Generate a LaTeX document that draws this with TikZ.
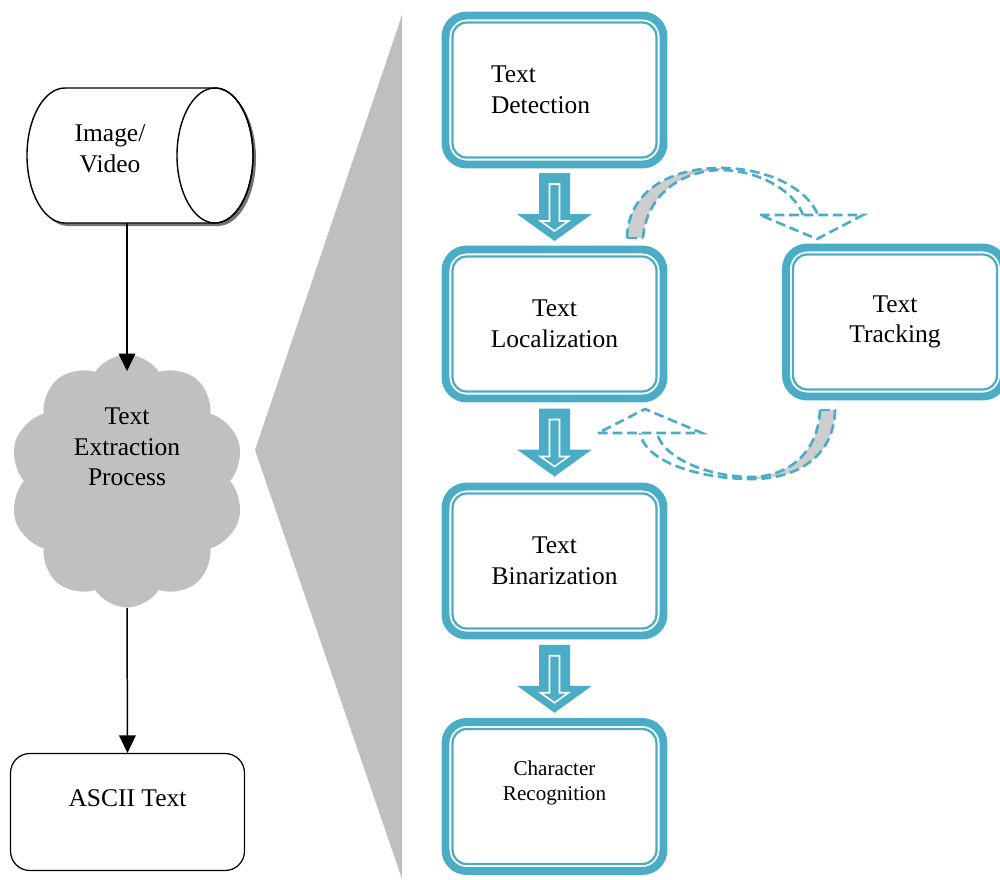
\documentclass[tikz,border=0pt]{standalone}
\usepackage{fontspec}
\setmainfont{Liberation Serif}
\usetikzlibrary{shapes.symbols,arrows.meta,calc}

\definecolor{stageblue}{RGB}{75,172,198}
\definecolor{fangray}{RGB}{191,191,191}
\definecolor{cloudgray}{RGB}{192,192,192}
\definecolor{bandgray}{RGB}{206,206,206}

\tikzset{
  caption/.style={font=\fontsize{14.5}{17.5}\selectfont, align=center},
  stage/.style={draw=stageblue, line width=4.5pt, rounded corners=12pt, outer sep=0pt,
    minimum width=4.36cm, minimum height=2.98cm, caption},
  stageinner/.style={draw=stageblue, line width=1.3pt, rounded corners=8pt},
  flow/.style={-{Triangle[length=10pt,width=9.5pt]}, line width=0.85pt},
  band/.style={draw=stageblue, line width=1.5pt, dash pattern=on 5.5pt off 2.8pt},
  blockarrow/.pic={
    \fill[stageblue] (-15.5,-34) -- (-15.5,7) -- (-37.5,7) -- (0,34)
      -- (37.5,7) -- (15.5,7) -- (15.5,-34) -- cycle;
    \draw[white, line width=0.9pt] (-5,-23) -- (-5,14) -- (-14,14) -- (0,24)
      -- (14,14) -- (5,14) -- (5,-23) -- cycle;
  }
}
% fat arrow half way between two stages
\newcommand\stagearrow[2]{\path ($(#1.south)!0.5!(#2.north)$) pic {blockarrow};}

\begin{document}
\begin{tikzpicture}[x=0.02cm, y=-0.02cm]
  \useasboundingbox (0,0) rectangle (1000,879);

  % zoom fan towards the stages
  \fill[fangray] (255,450) -- (402,15) -- (402,879) -- cycle;

  % left column: drum with shadow
  \fill[black!55, shift={(3,3)}] (65,88) -- (215,88) arc(-90:90:38 and 67.5)
    -- (65,223) arc(90:270:38 and 67.5) -- cycle;
  \draw[line width=0.8pt, fill=white] (65,88) -- (215,88) arc(-90:90:38 and 67.5)
    -- (65,223) arc(90:270:38 and 67.5) -- cycle;
  \draw[line width=0.8pt] (215,155.5) ellipse (38 and 67.5);
  \node[minimum width=4.52cm, minimum height=2.7cm, inner sep=0pt, outer sep=0pt,
    label={[caption, xshift=-0.6cm, yshift=0.14cm]center:Image/\\Video}] (media) at (140,155.5) {};

  \node[cloud, cloud puffs=10, cloud puff arc=115, aspect=0.93, fill=cloudgray,
    minimum width=4.7cm, minimum height=5.06cm,
    label={[caption, yshift=0.68cm]center:Text\\Extraction\\Process}] (proc) at (127,481) {};
  \node[draw, line width=0.7pt, rounded corners=11pt, minimum width=4.68cm, minimum height=2.34cm,
    label={[caption, yshift=0.28cm]center:ASCII Text}] (ascii) at (127.5,812) {};

  \draw[flow] (media.south -| proc.center) -- ($(proc.north)+(0,17)$);
  \draw[flow] (proc.south) -- (ascii.north);

  % stages
  \node[stage, text width=2.54cm, align=left] (det) at (554.5,90) {Text\\Detection};
  \node[stage] (loc) at (554.5,324) {Text\\Localization};
  \node[stage] (bin) at (554.5,561) {Text\\Binarization};
  \node[stage, label={[align=center, font=\fontsize{12}{14}\selectfont, yshift=0.27cm]center:Character\\Recognition}] (rec) at (554.5,796.5) {};
  \node[stage] (trk) at (895,322) {Text\\Tracking};

  \foreach \n in {det,loc,bin,rec,trk}
    \draw[stageinner] ($(\n.south west)+(7,-7)$) rectangle ($(\n.north east)+(-7,7)$);

  \stagearrow{det}{loc}
  \stagearrow{loc}{bin}
  \stagearrow{bin}{rec}

  % loop localization -> tracking
  \fill[bandgray] (627,238) .. controls (628,190) and (672,168) .. (720,168)
    -- (720,170) .. controls (680,171) and (646,196) .. (643,238) -- cycle;
  \draw[band] (627,238) .. controls (628,190) and (672,168) .. (720,168)
    .. controls (770,168) and (808,190) .. (818,215);
  \draw[band] (643,238) .. controls (646,196) and (680,171) .. (720,170)
    .. controls (760,170) and (795,192) .. (803,215);
  \draw[band] (627,238) -- (643,238);
  \draw[band, fill=white] (760,215) -- (863,215) -- (817,239) -- cycle;

  % loop tracking -> localization
  \fill[bandgray] (835,410) .. controls (834,458) and (795,479) .. (752,479)
    -- (752,477) .. controls (790,476) and (818,452) .. (820,410) -- cycle;
  \draw[band] (835,410) .. controls (834,458) and (795,479) .. (752,479)
    .. controls (700,479) and (645,462) .. (640,433);
  \draw[band] (820,410) .. controls (818,452) and (790,476) .. (752,477)
    .. controls (708,477) and (663,458) .. (657,433);
  \draw[band] (820,410) -- (835,410);
  \draw[band, fill=white] (598,433) -- (702,433) -- (645,409) -- cycle;
\end{tikzpicture}
\end{document}
